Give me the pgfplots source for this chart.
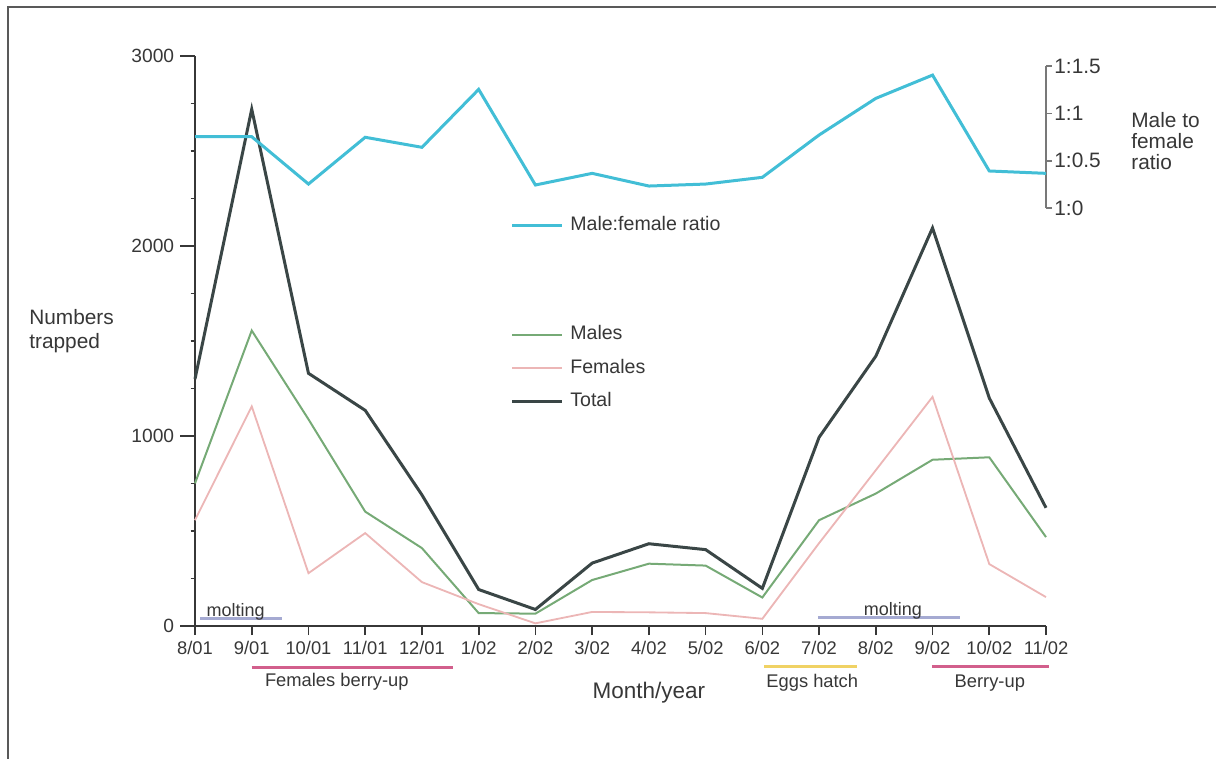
\documentclass[border=0pt]{standalone}
\usepackage{pgfplots}
\usepackage{pgfplotstable}
\pgfplotsset{compat=1.18}
\usepackage{fontspec}
\setmainfont{Liberation Sans}

\definecolor{ratioc}{RGB}{66,190,214}
\definecolor{totalc}{RGB}{58,70,70}
\definecolor{malec}{RGB}{118,170,118}
\definecolor{femalec}{RGB}{236,182,182}
\definecolor{axisc}{RGB}{55,55,55}
\definecolor{raxisc}{RGB}{120,120,120}
\definecolor{moltc}{RGB}{165,170,210}
\definecolor{berryc}{RGB}{210,95,140}
\definecolor{eggc}{RGB}{240,210,100}

\pgfplotstableread{
x total males females ratio
0 1300 751 557 0.753
1 2720 1555 1156 0.753
2 1330 1088 278 0.253
3 1135 602 489 0.747
4 690 410 231 0.641
5 192 68 115 1.253
6 87 65 14 0.243
7 331 242 74 0.366
8 433 328 72 0.232
9 402 318 68 0.253
10 198 150 38 0.324
11 993 557 436 0.771
12 1420 697 820 1.158
13 2095 875 1206 1.404
14 1200 888 326 0.391
15 622 468 152 0.366
}\data

\begin{document}
\begin{tikzpicture}
\useasboundingbox (0pt,0pt) rectangle (729.6pt,-454.8pt);
\draw[gray!70!black, line width=0.9pt] (4.8pt,-460pt) -- (4.8pt,-4.2pt) -- (735pt,-4.2pt);

% left y axis only
\begin{axis}[
  at={(117pt,-375.6pt)}, anchor=south west,
  scale only axis, width=510.6pt, height=342pt,
  xmin=0, xmax=15, ymin=0, ymax=3000,
  hide x axis, axis y line=left,
  axis line style={-, axisc, line width=1.2pt},
  ytick={0,1000,2000,3000}, yticklabels={0,1000,2000,3000},
  minor ytick={250,500,750,1250,1500,1750,2250,2500,2750},
  tick align=outside, major tick length=9pt, minor tick length=2.7pt,
  tick style={axisc, line width=1pt},
  yticklabel style={font=\fontsize{11.5}{13}\selectfont, text=axisc},
]
\addplot[draw=none, forget plot] coordinates {(0,0)};
\end{axis}

% main axis: data, x axis
\begin{axis}[
  at={(117pt,-375.6pt)}, anchor=south west,
  scale only axis, width=510.6pt, height=342pt,
  xmin=0, xmax=15, ymin=0, ymax=3000,
  axis x line=bottom, axis y line=none,
  axis line style={-, axisc, line width=1.2pt},
  xtick={0,...,15},
  xticklabels={8/01,9/01,10/01,11/01,12/01,1/02,2/02,3/02,4/02,5/02,6/02,7/02,8/02,9/02,10/02,11/02},
  tick align=outside, major tick length=5.4pt,
  tick style={axisc, line width=1pt},
  xticklabel style={font=\fontsize{11}{13}\selectfont, text=axisc},
  clip=false,
  legend style={at={(0.3705,0.4526)}, anchor=west, draw=none, fill=none,
    font=\fontsize{11.75}{14}\selectfont, text=axisc, inner sep=0pt,
    row sep=0.6pt,
    nodes={text height=9pt, text depth=2.5pt, inner sep=4pt}},
  legend image code/.code={\draw[#1] (0pt,0pt) -- (30pt,0pt);},
  legend cell align=left,
]
\addplot[malec, line width=1.2pt] table[x=x,y=males]{\data};
\addlegendentry{Males}
\addplot[femalec, line width=1.1pt] table[x=x,y=females]{\data};
\addlegendentry{Females}
\addplot[totalc, line width=1.8pt] table[x=x,y=total]{\data};
\addlegendentry{Total}

\draw[moltc, line width=1.8pt] (axis cs:0.09,37) -- (axis cs:1.53,37);
\node[anchor=west, font=\fontsize{10.8}{12}\selectfont, text=axisc, inner sep=0pt] at (axis cs:0.2,74) {molting};
\draw[moltc, line width=1.8pt] (axis cs:10.98,47) -- (axis cs:13.49,47);
\node[font=\fontsize{10.8}{12}\selectfont, text=axisc, inner sep=0pt] at (axis cs:12.3,79) {molting};

\draw[berryc, line width=1.8pt] (axis cs:1.0,-218) -- (axis cs:4.55,-218);
\node[font=\fontsize{11}{13}\selectfont, text=axisc] at (axis cs:2.5,-295) {Females berry-up};
\draw[eggc, line width=1.8pt] (axis cs:10.03,-212) -- (axis cs:11.67,-212);
\node[font=\fontsize{11}{13}\selectfont, text=axisc] at (axis cs:10.88,-300) {Eggs hatch};
\draw[berryc, line width=1.8pt] (axis cs:12.99,-212) -- (axis cs:15.05,-212);
\node[font=\fontsize{11}{13}\selectfont, text=axisc] at (axis cs:14.01,-300) {Berry-up};
\node[font=\fontsize{13.5}{15}\selectfont, text=axisc] at (axis cs:8.0,-352) {Month/year};
\end{axis}

% ratio axis
\begin{axis}[
  at={(117pt,-124.8pt)}, anchor=south west,
  scale only axis, width=510.6pt, height=85.2pt,
  xmin=0, xmax=15, ymin=0, ymax=1.5,
  hide x axis, axis y line=right,
  axis line style={-, raxisc, line width=1.2pt},
  ytick={0,0.5,1,1.5}, yticklabels={1:0,1:0.5,1:1,1:1.5},
  tick align=outside, major tick length=3.5pt,
  tick style={raxisc, line width=1pt},
  yticklabel style={font=\fontsize{12.5}{14}\selectfont, text=axisc, anchor=west, xshift=-2pt},
  clip=false,
  legend style={at={(0.3705,-0.12)}, anchor=west, draw=none, fill=none,
    font=\fontsize{11.75}{14}\selectfont, text=axisc, inner sep=0pt,
    nodes={text height=9pt, text depth=2.5pt, inner sep=4pt}},
  legend image code/.code={\draw[#1] (0pt,0pt) -- (30pt,0pt);},
]
\addplot[ratioc, line width=1.8pt] table[x=x,y=ratio]{\data};
\addlegendentry{Male:female ratio}
\end{axis}

\node[anchor=west, align=left, inner sep=0pt, font=\fontsize{12.5}{14.4}\selectfont, text=axisc] at (17.4pt,-198.6pt) {Numbers\\trapped};
\node[anchor=west, align=left, inner sep=0pt, font=\fontsize{12.5}{12.8}\selectfont, text=axisc] at (678.6pt,-84.6pt) {Male to\\female\\ratio};
\end{tikzpicture}
\end{document}
